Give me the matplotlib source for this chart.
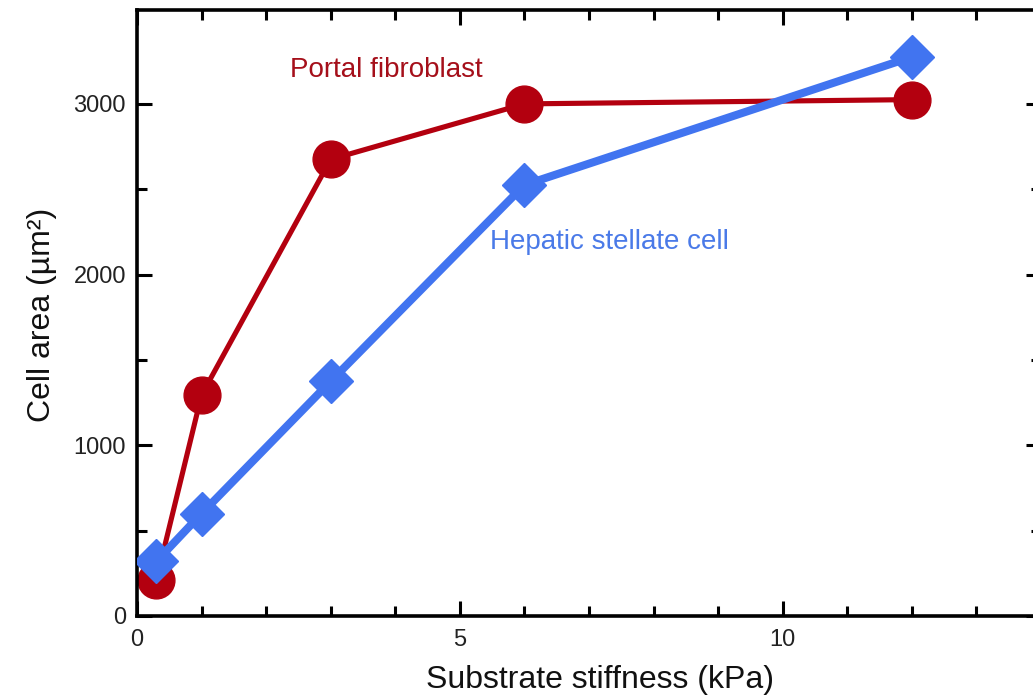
import matplotlib
matplotlib.use('Agg')
import matplotlib.pyplot as plt
from matplotlib.ticker import MultipleLocator, FixedLocator

plt.rcParams['font.family'] = ['Liberation Sans', 'DejaVu Sans']

# stiffness (kPa) and mean cell area (um^2)
stiffness = [0.3, 1, 3, 6, 12]
portal_area = [210, 1295, 2675, 3000, 3025]
stellate_area = [320, 600, 1375, 2525, 3275]

red = '#b3000f'
blue = '#4174f0'

W, H = 1033, 697
fig = plt.figure(figsize=(W / 100, H / 100), dpi=100)
ax = fig.add_axes([137 / W, 1 - 616 / H, (1041 - 137) / W, (616 - 10) / H])

ax.plot(stiffness, portal_area, '-', color=red, linewidth=3.7,
        marker='o', markersize=26.5, markerfacecolor=red, markeredgecolor=red, zorder=2)
ax.plot(stiffness, stellate_area, '-', color=blue, linewidth=5.8,
        marker='D', markersize=22, markerfacecolor=blue, markeredgecolor=blue, zorder=3)

fig.text(290 / W, 1 - 70 / H, 'Portal fibroblast', color='#a50f1a', fontsize=20,
         va='center', ha='left')
fig.text(490 / W, 1 - 242 / H, 'Hepatic stellate cell', color='#4a7ae8', fontsize=20,
         va='center', ha='left')

ax.set_xlim(0, 14)
ax.set_ylim(0, 3550)
ax.xaxis.set_major_locator(MultipleLocator(5))
ax.xaxis.set_minor_locator(MultipleLocator(1))
ax.yaxis.set_major_locator(MultipleLocator(1000))
ax.yaxis.set_minor_locator(FixedLocator([500, 1500, 2500]))
ax.tick_params(which='both', direction='in', top=True, right=True, width=2.2,
               labelsize=17, color='black', labelcolor='#222222')
ax.tick_params(which='major', length=11)
ax.tick_params(which='minor', length=7)
ax.tick_params(axis='x', pad=9)
ax.tick_params(axis='y', pad=8)
for s in ax.spines.values():
    s.set_linewidth(2.6)

ax.set_xlabel('Substrate stiffness (kPa)', fontsize=23, color='#111111')
ax.set_ylabel('Cell area (µm²)', fontsize=23, color='#111111')
ax.xaxis.set_label_coords(600 / W, 1 - 680 / H, transform=fig.transFigure)
ax.yaxis.set_label_coords(42 / W, 1 - 315 / H, transform=fig.transFigure)
ax.xaxis.label.set_va('center')
ax.yaxis.label.set_va('center')

fig.savefig('out.png', dpi=100)
